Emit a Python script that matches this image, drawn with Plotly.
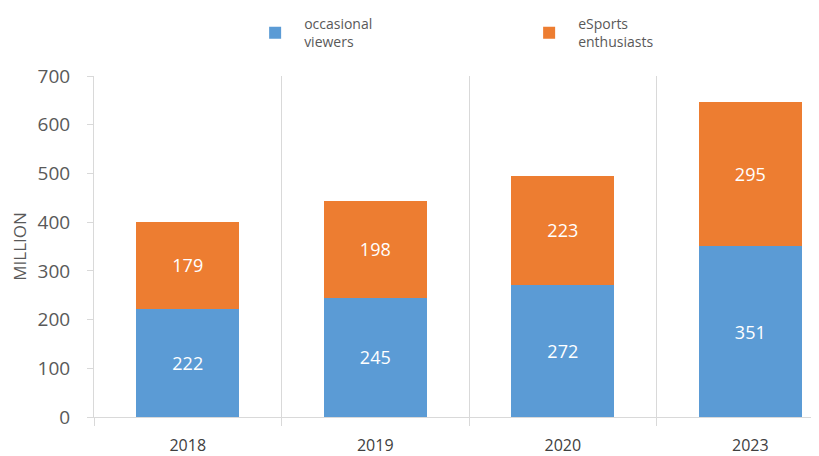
import plotly.graph_objects as go

years = ["2018", "2019", "2020", "2023"]
occasional = [222, 245, 272, 351]
enthusiasts = [179, 198, 223, 295]
y_ticks = [0, 100, 200, 300, 400, 500, 600, 700]

font_family = "Open Sans, DejaVu Sans, sans-serif"

fig = go.Figure()
fig.add_trace(go.Bar(
    x=years, y=occasional, name="occasional<br>viewers",
    marker=dict(color="#5B9BD5", line=dict(width=0)),
    text=occasional, textposition="inside", insidetextanchor="middle",
    textfont=dict(color="white", size=18, family=font_family), width=0.55,
))
fig.add_trace(go.Bar(
    x=years, y=enthusiasts, name="eSports<br>enthusiasts",
    marker=dict(color="#ED7D31", line=dict(width=0)),
    text=enthusiasts, textposition="inside", insidetextanchor="middle",
    textfont=dict(color="white", size=18, family=font_family), width=0.55,
))

fig.update_layout(
    barmode="stack",
    width=811, height=448,
    margin=dict(l=86, r=4, t=68, b=39, autoexpand=False),
    paper_bgcolor="white", plot_bgcolor="white",
    font=dict(family=font_family, color="#595959"),
    showlegend=True,
    legend=dict(
        orientation="h", x=0.211, y=1.0, yanchor="top", xanchor="left",
        yref="container", entrywidth=211, entrywidthmode="pixels",
        font=dict(size=14, color="#595959"), traceorder="normal",
        itemsizing="constant", itemwidth=48,
    ),
    xaxis=dict(
        type="category", range=[-0.5, 3.345], automargin=False,
        tickson="boundaries", ticks="outside", ticklen=8, tickcolor="#D9D9D9",
        showgrid=True, gridcolor="#D9D9D9", gridwidth=1,
        showline=True, linecolor="#D9D9D9", ticklabelstandoff=14,
        tickfont=dict(size=16, color="#404040"),
    ),
    yaxis=dict(
        range=[0, 700], tickvals=y_ticks, automargin=False,
        showgrid=False, zeroline=False,
        showline=True, linecolor="#D9D9D9", ticks="outside", ticklen=6,
        tickcolor="#D9D9D9", ticklabelstandoff=13,
        tickfont=dict(size=19, color="#595959"),
        title=dict(text="MILLION", font=dict(size=17, color="#595959"), standoff=10),
    ),
)
fig.write_html("out.html")
